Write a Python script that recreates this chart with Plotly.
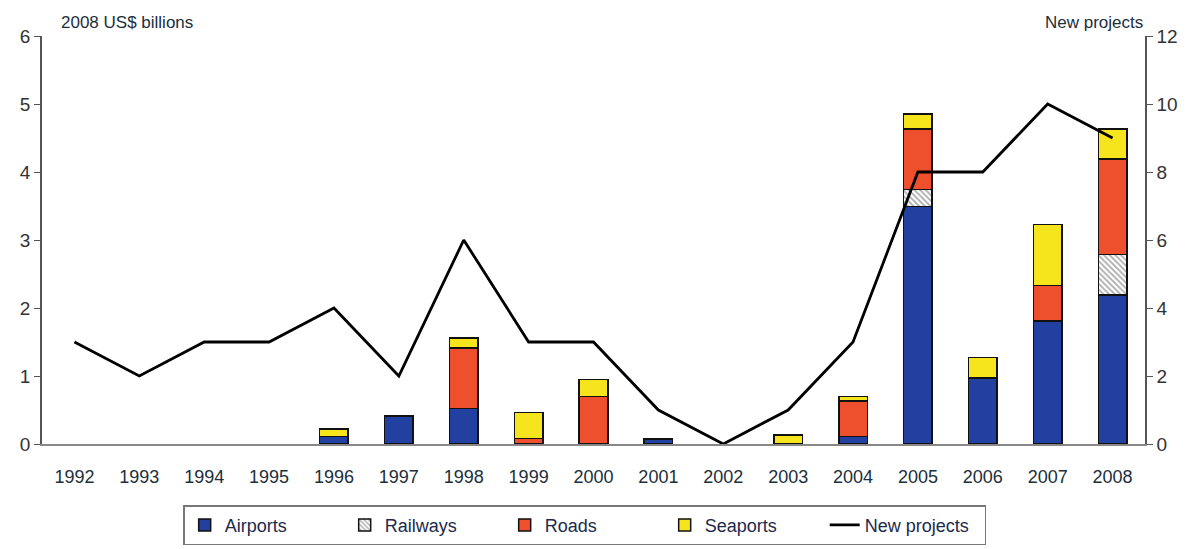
import plotly.graph_objects as go

years = [str(y) for y in range(1992, 2009)]
airports = [None, None, None, None, 0.11, 0.41, 0.52, None, None, 0.07, None, None, 0.11, 3.49, 0.97, 1.81, 2.19]
railways = [None, None, None, None, None, None, None, None, None, None, None, None, None, 0.25, None, None, 0.60]
roads = [None, None, None, None, None, None, 0.89, 0.08, 0.70, None, None, None, 0.52, 0.89, None, 0.52, 1.40]
seaports = [None, None, None, None, 0.11, None, 0.15, 0.38, 0.25, None, None, 0.13, 0.07, 0.22, 0.30, 0.90, 0.44]
new_projects = [3, 2, 3, 3, 4, 2, 6, 3, 3, 1, 0, 1, 3, 8, 8, 10, 9]

FONT = "Liberation Sans, Arial, sans-serif"
TXT = "#1c2f3a"
edge = dict(color="#111111", width=1.5)

fig = go.Figure()
fig.add_trace(go.Bar(x=years, y=airports, name="Airports",
                     marker=dict(color="#2140a0", line=edge)))
fig.add_trace(go.Bar(x=years, y=railways, name="Railways",
                     marker=dict(color="white", line=edge,
                                 pattern=dict(shape="\\", fgcolor="#555555",
                                              bgcolor="white", size=4, solidity=0.45))))
fig.add_trace(go.Bar(x=years, y=roads, name="Roads",
                     marker=dict(color="#ee4f2c", line=edge)))
fig.add_trace(go.Bar(x=years, y=seaports, name="Seaports",
                     marker=dict(color="#f6e51c", line=edge)))
fig.add_trace(go.Scatter(x=years, y=new_projects, name="New projects", yaxis="y2",
                         mode="lines", line=dict(color="#000000", width=2.8)))

fig.update_layout(
    width=1192, height=549,
    barmode="stack", bargap=0.56,
    plot_bgcolor="white", paper_bgcolor="white",
    font=dict(family=FONT, size=17, color=TXT),
    margin=dict(l=42, r=47, t=36, b=105, autoexpand=False),
    xaxis=dict(type="category", showline=True, linecolor="#888888", linewidth=1.5,
               ticks="", tickfont=dict(size=18, color=TXT), showgrid=False,
               ticklabelstandoff=16),
    yaxis=dict(range=[0, 6], dtick=1, showline=True, linecolor="#555555", linewidth=1.5,
               ticks="outside", ticklen=6, tickcolor="#555555", showgrid=False,
               zeroline=False, tickfont=dict(size=19, color="#333333")),
    yaxis2=dict(range=[0, 12], dtick=2, overlaying="y", side="right", showline=True,
                linecolor="#555555", linewidth=1.5, ticks="outside", ticklen=6,
                tickcolor="#555555", showgrid=False, zeroline=False,
                tickfont=dict(size=19, color="#333333")),
    legend=dict(orientation="h", x=0.492, xanchor="center", y=-0.15, yanchor="top",
                bordercolor="#777777", borderwidth=1.5, entrywidth=115,
                font=dict(size=18, color="#1c2a4a"), traceorder="normal"),
    annotations=[
        dict(text="2008 US$ billions", xref="paper", yref="paper", x=0.015, y=1.0,
             xanchor="left", yanchor="bottom", yshift=2, showarrow=False,
             font=dict(size=17, color=TXT)),
        dict(text="New projects", xref="paper", yref="paper", x=1.0, y=1.0,
             xanchor="right", yanchor="bottom", yshift=2, showarrow=False,
             font=dict(size=17, color=TXT)),
    ],
)

fig.write_html("out.html")
